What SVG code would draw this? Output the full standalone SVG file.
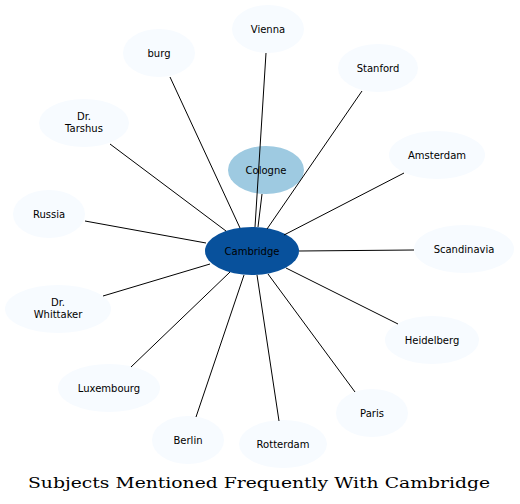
<svg xmlns="http://www.w3.org/2000/svg" width="520" height="504" viewBox="0 0 520 504">
<style>
.n ellipse{fill:#f7fbff;stroke:none}
.n text{font-family:"DejaVu Sans",sans-serif;font-size:10px;fill:#000;text-anchor:middle}
.e line{stroke:#000;stroke-width:1}
.t{font-family:"DejaVu Serif",serif;font-size:14px;text-anchor:middle;fill:#000}
</style>
<rect width="520" height="504" fill="#fff"/>
<g id="Cambridge" class="n"><ellipse cx="252" cy="251" rx="47" ry="24" style="fill:#08519c"/><text x="252" y="255">Cambridge</text></g>
<g id="Cologne" class="n"><ellipse cx="266" cy="170" rx="38" ry="24" style="fill:#9ecae1"/><text x="266" y="174">Cologne</text></g>
<g id="Vienna" class="n"><ellipse cx="268" cy="29" rx="36" ry="24"/><text x="268" y="33">Vienna</text></g>
<g id="burg" class="n"><ellipse cx="159" cy="53" rx="36" ry="24"/><text x="159" y="57">burg</text></g>
<g id="Stanford" class="n"><ellipse cx="378" cy="68" rx="40" ry="24"/><text x="378" y="72">Stanford</text></g>
<g id="DrTarshus" class="n"><ellipse cx="84" cy="123" rx="45" ry="24"/><text x="84" y="120">Dr.</text><text x="84" y="132">Tarshus</text></g>
<g id="Amsterdam" class="n"><ellipse cx="437" cy="155" rx="48" ry="24"/><text x="437" y="159">Amsterdam</text></g>
<g id="Russia" class="n"><ellipse cx="49" cy="214" rx="36" ry="24"/><text x="49" y="218">Russia</text></g>
<g id="Scandinavia" class="n"><ellipse cx="464" cy="249" rx="50" ry="24"/><text x="464" y="253">Scandinavia</text></g>
<g id="DrWhittaker" class="n"><ellipse cx="58" cy="309" rx="53" ry="24"/><text x="58" y="306">Dr.</text><text x="58" y="318">Whittaker</text></g>
<g id="Heidelberg" class="n"><ellipse cx="432" cy="340" rx="47" ry="24"/><text x="432" y="344">Heidelberg</text></g>
<g id="Luxembourg" class="n"><ellipse cx="109" cy="388" rx="51" ry="24"/><text x="109" y="392">Luxembourg</text></g>
<g id="Paris" class="n"><ellipse cx="372" cy="413" rx="36" ry="24"/><text x="372" y="417">Paris</text></g>
<g id="Berlin" class="n"><ellipse cx="188" cy="440" rx="36" ry="24"/><text x="188" y="444">Berlin</text></g>
<g id="Rotterdam" class="n"><ellipse cx="283" cy="444" rx="44" ry="24"/><text x="283" y="448">Rotterdam</text></g>
<g id="edges" class="e">
<line x1="266" y1="53" x2="255" y2="227"/>
<line x1="170" y1="77" x2="240" y2="228"/>
<line x1="362" y1="91" x2="267" y2="229"/>
<line x1="110" y1="144" x2="226" y2="231"/>
<line x1="404" y1="173" x2="284" y2="235"/>
<line x1="85" y1="221" x2="206" y2="243"/>
<line x1="414" y1="250" x2="299" y2="251"/>
<line x1="103" y1="296" x2="210" y2="264"/>
<line x1="398" y1="324" x2="286" y2="268"/>
<line x1="131" y1="367" x2="230" y2="272"/>
<line x1="355" y1="392" x2="268" y2="274"/>
<line x1="196" y1="417" x2="244" y2="275"/>
<line x1="279" y1="421" x2="257" y2="275"/>
<line x1="262" y1="194" x2="258" y2="227"/>
</g>
<text class="t" x="259" y="488" textLength="462" lengthAdjust="spacingAndGlyphs">Subjects Mentioned Frequently With Cambridge</text>
</svg>
